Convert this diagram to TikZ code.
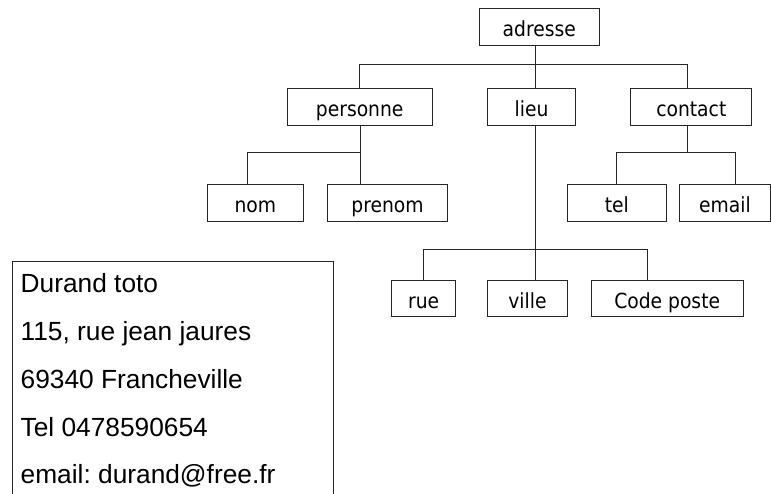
\documentclass[tikz,border=0pt]{standalone}
\usepackage{fontspec}
\setmainfont{DejaVu Sans}[FakeStretch=0.9]
\newfontfamily\cardfont{Liberation Sans}
\begin{document}
\begin{tikzpicture}[x=1pt,y=-1pt,
  treebox/.style={draw=black!85, line width=1pt, rectangle, inner sep=0pt,
    minimum height=36.7pt, text height=19.4pt, text depth=0pt,
    font=\fontsize{20.8}{23}\selectfont},
  link/.style={draw=black!85, line width=0.9pt},
  cardline/.style={anchor=base west, inner sep=0pt,
    font=\cardfont\fontsize{26.3}{30}\selectfont\frenchspacing}]
\useasboundingbox (0,0) rectangle (771,493);

% tree boxes
\node[treebox, minimum width=120pt]   (adresse)   at (539.3,26.7)  {adresse};
\node[treebox, minimum width=144.7pt] (personne)  at (359.7,106.8) {personne};
\node[treebox, minimum width=87.6pt]  (lieu)      at (531.5,106.8) {lieu};
\node[treebox, minimum width=120.7pt] (contact)   at (691.3,106.8) {contact};
\node[treebox, minimum width=96pt]    (nom)       at (255.3,202.7) {nom};
\node[treebox, minimum width=119.6pt] (prenom)    at (387.5,202.7) {prenom};
\node[treebox, minimum width=99pt]    (tel)       at (616.8,202.7) {tel};
\node[treebox, minimum width=91.2pt]  (email)     at (725,202.7)   {email};
\node[treebox, minimum width=64pt]    (rue)       at (423.7,298.5) {rue};
\node[treebox, minimum width=80.4pt]  (ville)     at (527.5,298.5) {ville};
\node[treebox, minimum width=152.3pt] (codeposte) at (667.2,298.5) {Code poste};

% bus junctions
\coordinate (tL) at (359.5,64.3);
\coordinate (tM) at (535.7,64.3);
\coordinate (tR) at (687.5,64.3);
\coordinate (pL) at (247.7,152.3);
\coordinate (pR) at (360,152.3);
\coordinate (cL) at (616,152.3);
\coordinate (cM) at (687.7,152.3);
\coordinate (cR) at (735.7,152.3);
\coordinate (mL) at (423.5,249);
\coordinate (mM) at (535.7,249);
\coordinate (mR) at (647.3,249);

% adresse -> personne, lieu, contact
\draw[link] (adresse.south -| tM) -- (tM |- lieu.north);
\draw[link] (tL |- personne.north) -- (tL) -- (tR) -- (tR |- contact.north);

% personne -> nom, prenom
\draw[link] (personne.south -| pR) -- (pR |- prenom.north);
\draw[link] (pL |- nom.north) -- (pL) -- (pR);

% contact -> tel, email
\draw[link] (contact.south -| cM) -- (cM);
\draw[link] (cL |- tel.north) -- (cL) -- (cR) -- (cR |- email.north);

% lieu -> rue, ville, code poste
\draw[link] (lieu.south -| mM) -- (mM |- ville.north);
\draw[link] (mL |- rue.north) -- (mL) -- (mR) -- (mR |- codeposte.north);

% address card (runs past the lower edge)
\node[draw=black!85, line width=1pt, rectangle, inner sep=0pt, anchor=north west,
      minimum width=321pt, minimum height=245pt] (card) at (11.5,260.7) {};
\node[cardline] (l1) at (20.5,292.2) {Durand toto};
\node[cardline] (l2) at (20.5,340.4) {115, rue jean jaures};
\node[cardline] (l3) at (20.5,388.6) {69340 Francheville};
\node[cardline] (l4) at (20.5,436.4) {Tel 0478590654};
\node[cardline] (l5) at (20.5,483.3) {email: durand@free.fr};
\end{tikzpicture}
\end{document}
